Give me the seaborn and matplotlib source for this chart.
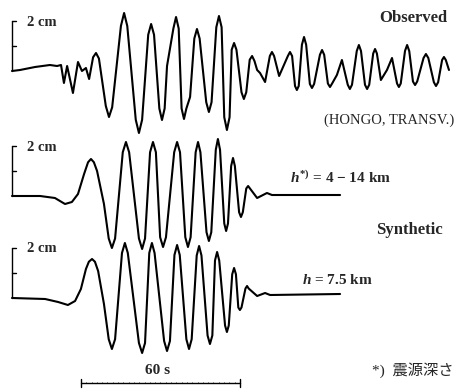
import pandas as pd
import matplotlib
matplotlib.use("Agg")
import matplotlib.pyplot as plt
import seaborn as sns

# observed record, HONGO transverse: time [s], amplitude [cm]
obs_t = [0, 3.0, 8.7, 14.3, 17.0, 18.5, 19.6, 20.8, 23.0, 24.9, 26.4, 27.9, 29.1,
         30.6, 31.7, 32.8, 35.4, 36.6, 37.8, 41.1, 42.3, 43.5, 46.7, 47.9, 49.1,
         51.4, 52.5, 53.6, 55.6, 56.6, 57.6, 58.5, 60.9, 61.9, 62.9,
         64.0, 64.9, 65.8, 67.2, 68.8, 69.8, 70.8, 73.3, 74.3, 75.3,
         77.1, 78.1, 79.1, 80.1, 81.1, 82.1, 82.9, 83.8, 84.7, 86.6, 87.5, 88.4,
         89.7, 90.6, 91.5, 92.5, 93.6, 95.5, 97.3, 98.1, 98.9, 100.8,
         104.1, 104.9, 105.7, 106.8, 107.5, 108.2, 109.4, 110.2, 111.0,
         112.4, 113.2, 114.0, 116.2, 117.0, 117.8, 119.2, 120.0, 120.8,
         122.6, 124.5, 126.7, 127.5, 128.3, 130.1, 130.9, 131.7,
         133.2, 134.0, 134.8, 136.3, 137.0, 137.7, 139.2, 141.5, 143.4,
         145.3, 146.0, 146.7, 148.3, 149.1, 149.9, 151.3, 152.1, 152.9,
         155.3, 156.2, 157.1, 159.2, 160.0, 160.8, 162.3, 163.0, 163.7, 164.9]
obs_a = [0, 0.04, 0.16, 0.24, 0.2, 0.24, -0.48, 0.2, -0.88, 0.36, 0, 0.12, -0.32,
         0.55, 0.72, 0.5, -1.4, -1.84, -1.45, 1.8, 2.32, 1.8, -1.95, -2.48, -1.95,
         1.45, 1.88, 1.45, -1.5, -1.96, -1.5, 0.2, 1.7, 2.16, 1.7,
         -1.5, -1.92, -1.5, -1.04, 1.3, 1.68, 1.3, -1.25, -1.64, -1.25,
         1.75, 2.2, 1.75, -1.85, -2.36, -1.85, 0.85, 1.12, 0.85, -0.85, -1.12, -0.85,
         0.45, 0.6, 0.4, 0.04, -0.08, -0.44, 0.6, 0.76, 0.6, -0.2,
         0.6, 0.76, 0.6, -0.6, -0.76, -0.6, 1.05, 1.36, 1.05,
         -0.52, -0.68, -0.52, 0.65, 0.84, 0.65, -0.5, -0.64, -0.5,
         -0.16, 0.44, -0.55, -0.72, -0.55, 0.8, 1.04, 0.8,
         -0.55, -0.72, -0.55, 0.7, 0.88, 0.7, -0.36, 0.04, 0.52,
         -0.5, -0.64, -0.5, 0.8, 1.04, 0.8, -0.42, -0.56, -0.42,
         0.52, 0.68, 0.52, -0.45, -0.6, -0.45, 0.44, 0.56, 0.44, 0.04]

# synthetic, h = 4-14 km
syn1_t = [0, 10.6, 16.2, 20.0, 22.6, 24.9, 27.2, 28.7, 29.8, 30.9, 32.1, 34.7,
          36.5, 37.7, 38.9, 41.8, 43.0, 44.2, 47.9, 49.1, 50.2, 52.1, 53.2, 54.3,
          55.9, 57.0, 58.1, 61.2, 62.3, 63.4, 65.4, 66.4, 67.4, 69.3, 70.2, 71.1,
          73.4, 74.3, 75.2, 76.9, 77.7, 78.5, 80.1, 80.8, 81.5, 82.7, 83.4, 84.1,
          85.7, 86.4, 87.1, 88.4, 89.1, 89.8, 92.5, 96.2, 98.1, 123.8]
syn1_a = [0, 0, -0.08, -0.32, -0.24, 0.08, 0.88, 1.35, 1.48, 1.35, 1.0, -0.32,
          -1.7, -2.08, -1.7, 1.75, 2.16, 1.75, -1.7, -2.12, -1.7, 1.75, 2.16, 1.75,
          -1.65, -2.04, -1.65, 1.75, 2.16, 1.75, -1.65, -2.04, -1.65, 1.75, 2.16, 1.75,
          -1.45, -1.8, -1.45, 1.85, 2.28, 1.85, -1.1, -1.4, -1.1, 1.2, 1.52, 1.2,
          -0.65, -0.84, -0.65, 0.3, 0.4, 0.3, -0.08, 0.12, 0.04, 0.04]

# synthetic, h = 7.5 km
syn2_t = [0, 12.5, 17.4, 21.1, 23.8, 26.0, 27.9, 29.0, 30.2, 31.3, 32.5, 34.7,
          36.5, 37.7, 38.9, 41.5, 42.6, 43.7, 47.9, 49.1, 50.2, 51.8, 52.8, 53.8,
          57.4, 58.5, 59.6, 61.3, 62.3, 63.3, 65.8, 66.8, 67.8, 69.7, 70.6, 71.5,
          73.8, 74.7, 75.6, 76.6, 77.4, 78.2, 80.4, 81.1, 81.8, 83.1, 83.8, 84.5,
          85.4, 86.0, 86.6, 88.1, 88.7, 89.3, 92.5, 95.5, 97.4, 123.8]
syn2_a = [0, -0.04, -0.16, -0.28, -0.12, 0.36, 1.16, 1.45, 1.56, 1.45, 1.08, -0.24,
          -1.65, -2.04, -1.65, 1.8, 2.2, 1.8, -1.8, -2.2, -1.8, 1.8, 2.2, 1.8,
          -1.72, -2.12, -1.72, 1.72, 2.12, 1.72, -1.65, -2.04, -1.65, 1.7, 2.08, 1.7,
          -1.5, -1.84, -1.5, 1.5, 1.84, 1.5, -1.1, -1.36, -1.1, 0.95, 1.2, 0.95,
          -0.38, -0.48, -0.38, 0.38, 0.48, 0.38, 0.08, 0.2, 0.12, 0.16]

SCALE_CM = 2
BAR_S = 60

PX_PER_S = 2.65
PX_PER_CM = 25.0
W, H = 455, 389
X0 = 12

sns.set_theme(style="white")
plt.rcParams['font.family'] = ['Liberation Serif', 'Noto Sans CJK JP']
plt.rcParams['mathtext.fontset'] = 'custom'
plt.rcParams['mathtext.it'] = 'Liberation Serif:italic:bold'
plt.rcParams['mathtext.rm'] = 'Liberation Serif:bold'

fig = plt.figure(figsize=(W / 100, H / 100), dpi=100)
ax = fig.add_axes([0, 0, 1, 1])

traces = [(obs_t, obs_a, 71), (syn1_t, syn1_a, 196), (syn2_t, syn2_a, 298)]
for t, a, base_px in traces:
    base = -base_px / PX_PER_CM
    df = pd.DataFrame({'t': t, 'a': [v + base for v in a]})
    sns.lineplot(data=df, x='t', y='a', ax=ax, color='black', lw=1.5,
                 sort=False, estimator=None)
    # 2 cm bracket
    ax.plot([0, 0], [base, base + SCALE_CM], color='black', lw=1.0)
    ax.plot([0, 1.6], [base + SCALE_CM] * 2, color='black', lw=1.0)
    ax.plot([0, 1.6], [base + SCALE_CM / 2] * 2, color='black', lw=1.0)
    fig.text(27 / W, 1 - (base_px - 49) / H, f"{SCALE_CM} cm", fontsize=10.5,
             fontweight='bold', ha='left', va='center')

# 60 s time bar
bar_y = -383 / PX_PER_CM
t0 = 26.0
ax.plot([t0, t0 + BAR_S], [bar_y, bar_y], color='black', lw=1.0)
for tx in (t0, t0 + BAR_S):
    ax.plot([tx, tx], [bar_y - 0.17, bar_y + 0.17], color='black', lw=1.0)
for k in range(1, 30):
    ax.plot([t0 + 2 * k] * 2, [bar_y, bar_y + 0.06], color='black', lw=0.4)

ax.set_xlim(-X0 / PX_PER_S, (W - X0) / PX_PER_S)
ax.set_ylim(-H / PX_PER_CM, 0)
ax.axis('off')

fig.text(447 / W, 1 - 18 / H, "Observed", fontsize=12, fontweight='bold',
         ha='right', va='center')
fig.text(454 / W, 1 - 120 / H, "(HONGO, TRANSV.)", fontsize=10.5,
         ha='right', va='center')
fig.text(290 / W, 1 - 178 / H, r"$h^{*)}$ = 4 − 14 km", fontsize=11,
         fontweight='bold', ha='left', va='center')
fig.text(443 / W, 1 - 230 / H, "Synthetic", fontsize=12, fontweight='bold',
         ha='right', va='center')
fig.text(302 / W, 1 - 280 / H, r"$h$ = 7.5 km", fontsize=11,
         fontweight='bold', ha='left', va='center')
fig.text(158 / W, 1 - 370 / H, "60 s", fontsize=11, fontweight='bold',
         ha='center', va='center')
fig.text(453 / W, 1 - 370 / H, "*)  震源深さ", fontsize=11,
         ha='right', va='center')

fig.savefig("out.png", dpi=100)
